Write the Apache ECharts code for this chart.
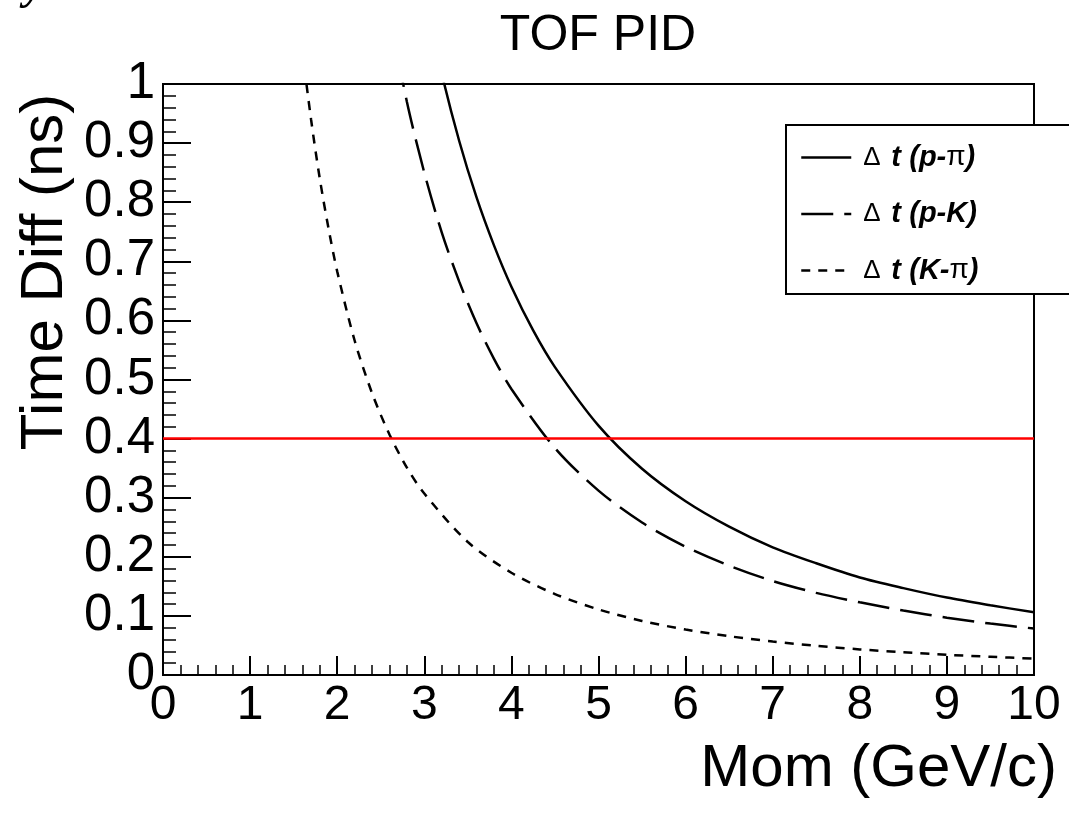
<!DOCTYPE html>
<html><head><meta charset="utf-8">
<script src="https://cdn.jsdelivr.net/npm/echarts@6/dist/echarts.min.js"></script>
<style>html,body{margin:0;padding:0;background:#fff}#c{width:1069px;height:815px}</style>
</head><body><div id="c"></div>
<script>
// Data
const momPPi = [3.0,3.2,3.4,3.6,3.8,4.0,4.25,4.5,5.0,5.5,6.0,6.5,7.0,7.5,8.0,8.5,9.0,9.5,10.0];
const dtPPi  = [1.155,1.018,0.904,0.808,0.727,0.657,0.583,0.521,0.422,0.349,0.294,0.251,0.216,0.189,0.165,0.147,0.131,0.118,0.106];
const momPK  = [2.6,2.8,3.0,3.2,3.4,3.6,3.8,4.0,4.5,5.0,5.5,6.0,6.5,7.0,7.5,8.0,8.5,9.0,9.5,10.0];
const dtPK   = [1.120,0.970,0.850,0.749,0.666,0.595,0.535,0.484,0.384,0.312,0.258,0.217,0.185,0.159,0.139,0.123,0.109,0.097,0.087,0.0786];
const momKPi = [1.5,1.6,1.7,1.8,1.9,2.0,2.2,2.4,2.6,2.8,3.0,3.5,4.0,4.5,5.0,5.5,6.0,6.5,7.0,7.5,8.0,8.5,9.0,9.5,10.0];
const dtKPi  = [1.200,1.058,0.940,0.840,0.756,0.683,0.566,0.477,0.407,0.351,0.307,0.225,0.173,0.137,0.111,0.0914,0.0770,0.0656,0.0566,0.0493,0.0433,0.0384,0.0342,0.0308,0.0277];
const cutMom = [0, 10];
const cutDt  = [0.4, 0.4];
const seriesNames = ['Δ t (p-π)', 'Δ t (p-K)', 'Δ t (K-π)'];
const titleText = 'TOF PID';
const xTitle = 'Mom (GeV/c)';
const yTitle = 'Time Diff (ns)';

function zip(a, b) { return a.map((v, i) => [v, b[i]]); }

const FF = '"Liberation Sans", Arial, Helvetica, sans-serif';
const chart = echarts.init(document.getElementById('c'), null, {renderer: 'canvas'});

function legendFmt(name) {
  const inner = name.slice(4); // '(p-π)'
  let parts;
  const k = inner.indexOf('π');
  if (k >= 0) {
    parts = '{b|' + inner.slice(0, k) + '}{s|π}{b|' + inner.slice(k + 1) + '}';
  } else {
    parts = '{b|' + inner + '}';
  }
  return '{g| }{d|Δ}{t|t}' + parts;
}

const boldIt = { fontSize: 29, fontFamily: FF, fontWeight: 'bold', fontStyle: 'italic', color: '#000' };

const option = {
  animation: false,
  backgroundColor: '#fff',
  grid: { left: 163, right: 35, top: 84, bottom: 140, show: true, borderColor: '#000', borderWidth: 2, backgroundColor: 'transparent' },
  xAxis: {
    type: 'value', min: 0, max: 10, interval: 1,
    axisLine: { show: true, lineStyle: { color: '#000', width: 2 } },
    axisTick: { show: true, inside: true, length: 19, lineStyle: { color: '#000', width: 2 } },
    minorTick: { show: true, splitNumber: 5, length: 10, lineStyle: { color: '#000', width: 1.5 } },
    splitLine: { show: false },
    axisLabel: { color: '#000', fontSize: 48, fontFamily: FF, margin: 7 }
  },
  yAxis: {
    type: 'value', min: 0, max: 1, interval: 0.1,
    axisLine: { show: true, lineStyle: { color: '#000', width: 2 } },
    axisTick: { show: true, inside: true, length: 28, lineStyle: { color: '#000', width: 2 } },
    minorTick: { show: true, splitNumber: 5, length: 13, lineStyle: { color: '#000', width: 1.5 } },
    splitLine: { show: false },
    axisLabel: { color: '#000', fontSize: 51, fontFamily: FF, margin: 8 }
  },
  legend: {
    data: seriesNames,
    orient: 'vertical', left: 795, top: 138,
    itemWidth: 50, itemHeight: 29, itemGap: 27.5,
    z: 20,
    itemStyle: { color: 'rgba(0,0,0,0)', borderWidth: 0, borderColor: 'rgba(0,0,0,0)' },
    lineStyle: { width: 2.5, color: '#000' },
    formatter: legendFmt,
    textStyle: {
      color: '#000', fontFamily: FF, fontSize: 29, lineHeight: 29,
      rich: {
        g: { width: 7, fontSize: 29, fontFamily: FF },
        d: { width: 28, fontSize: 26, fontFamily: FF, fontWeight: 'normal', color: '#000' },
        t: Object.assign({ width: 18 }, boldIt),
        b: boldIt,
        s: { fontSize: 28, fontFamily: FF, fontWeight: 'normal', color: '#000' }
      }
    }
  },
  graphic: [
    { type: 'rect', z: 10, shape: { x: 786, y: 125, width: 340, height: 169 }, style: { fill: '#fff', stroke: '#000', lineWidth: 2 } },
    { type: 'text', z: 10, x: 598, y: 36, style: { text: titleText, font: '50px ' + FF, fill: '#000', textAlign: 'center', textVerticalAlign: 'middle' } },
    { type: 'text', z: 10, x: 45, y: 272, rotation: Math.PI / 2, style: { text: yTitle, font: '60px ' + FF, fill: '#000', textAlign: 'center', textVerticalAlign: 'middle' } },
    { type: 'text', z: 10, x: 1057, y: 769, style: { text: xTitle, font: '60px ' + FF, fill: '#000', textAlign: 'right', textVerticalAlign: 'middle' } },
    { type: 'text', z: 10, x: 24, y: 10, style: { text: 'y', font: 'bold italic 44px "Liberation Serif", serif', fill: '#000', textAlign: 'left', textVerticalAlign: 'bottom' } }
  ],
  series: [
    { name: seriesNames[0], type: 'line', data: zip(momPPi, dtPPi), symbol: 'none', smooth: 0.3, clip: true,
      itemStyle: { color: '#000' }, lineStyle: { color: '#000', width: 2.5, type: 'solid' } },
    { name: seriesNames[1], type: 'line', data: zip(momPK, dtPK), symbol: 'none', smooth: 0.3, clip: true,
      itemStyle: { color: '#000' }, lineStyle: { color: '#000', width: 2.5, type: [32, 11] } },
    { name: seriesNames[2], type: 'line', data: zip(momKPi, dtKPi), symbol: 'none', smooth: 0.3, clip: true,
      itemStyle: { color: '#000' }, lineStyle: { color: '#000', width: 2.5, type: [9, 8] } },
    { name: 'cut', type: 'line', data: zip(cutMom, cutDt), symbol: 'none', silent: true, clip: true,
      itemStyle: { color: '#ff0000' }, lineStyle: { color: '#ff0000', width: 2.5 } }
  ]
};
chart.setOption(option);
</script>
</body></html>
